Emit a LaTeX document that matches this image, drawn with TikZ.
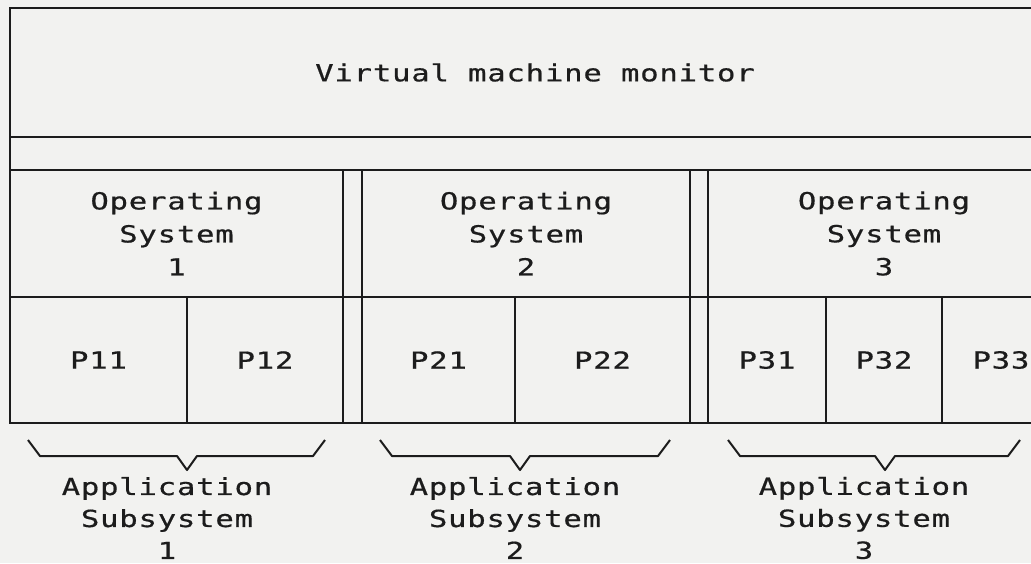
\documentclass[tikz,border=0pt]{standalone}
\usepackage{fontspec}
\newfontfamily\printerfont{DejaVu Sans Mono}[FakeStretch=1.3,LetterSpace=3.5,FakeBold=0.6]
\definecolor{paper}{RGB}{242,242,240}
\definecolor{ink}{RGB}{28,28,28}

\begin{document}
\begin{tikzpicture}[x=1pt,y=-1pt,
  cell/.style={draw=ink,line width=2pt,inner sep=0pt,outer sep=0pt,align=center,text=ink,
    font=\printerfont\fontsize{23.5}{33}\selectfont},
  apptext/.style={inner sep=0pt,align=center,text=ink,
    font=\printerfont\fontsize{23.5}{32}\selectfont},
  brace/.style={draw=ink,line width=2pt,line join=round}]
  \useasboundingbox (0,0) rectangle (1031,563);
  \clip (0,0) rectangle (1031,563);
  \fill[paper] (0,0) rectangle (1031,563);

  \node[cell,minimum width=1050,minimum height=129] (vmm) at (535,72.5) {Virtual machine monitor};
  \node[cell,minimum width=1050,minimum height=33] (band) at (535,153.5) {};

  \node[cell,minimum width=333,minimum height=127] (os1) at (176.5,233.5) {Operating\\System\\1};
  \node[cell,minimum width=328,minimum height=127] (os2) at (526,233.5) {Operating\\System\\2};
  \node[cell,minimum width=352,minimum height=127] (os3) at (884,233.5) {Operating\\System\\3};
  \node[cell,minimum width=19,minimum height=253] (gap1) at (352.5,296.5) {};
  \node[cell,minimum width=18,minimum height=253] (gap2) at (699,296.5) {};
  \draw[ink,line width=2pt] (os1.south east) -- (os2.south west);
  \draw[ink,line width=2pt] (os2.south east) -- (os3.south west);

  \foreach \n/\cx/\w in {11/98.5/177,12/265/156,21/438.5/153,22/602.5/175,31/767/118,32/884/116,33/1001/118}
    \node[cell,minimum width=\w,minimum height=126] (p\n) at (\cx,360) {P\n};

  \foreach \i/\l/\m/\r in {1/28/187/325,2/380/520/670,3/728/885/1020} {
    \coordinate (tip\i) at (\m,470);
    \path[brace] (\l,440) -- (\l+12,456) -- (\m-10,456) -- (tip\i)
      -- (\m+10,456) -- (\r-12,456) -- (\r,440);
  }

  \node[apptext] (app1) at (167,518) {Application\\Subsystem\\1};
  \node[apptext] (app2) at (515,518) {Application\\Subsystem\\2};
  \node[apptext] (app3) at (864,518) {Application\\Subsystem\\3};
\end{tikzpicture}
\end{document}
